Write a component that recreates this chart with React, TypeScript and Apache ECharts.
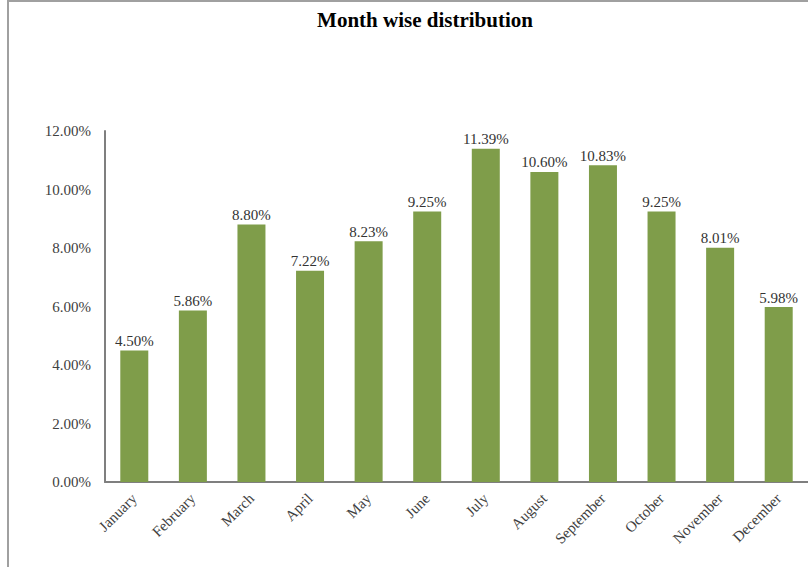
import React, { useEffect, useRef } from "react";
import * as echarts from "echarts";

const months = ["January", "February", "March", "April", "May", "June", "July", "August", "September", "October", "November", "December"];
const shares = [4.5, 5.86, 8.8, 7.22, 8.23, 9.25, 11.39, 10.6, 10.83, 9.25, 8.01, 5.98];
const chartTitle = "Month wise distribution";

const FONT = "'Liberation Serif', 'Times New Roman', serif";

export default function App() {
  const ref = useRef<HTMLDivElement>(null);
  useEffect(() => {
    if (!ref.current) return;
    const chart = echarts.init(ref.current, undefined, { renderer: "svg" });
    chart.setOption({
      animation: false,
      backgroundColor: "#ffffff",
      title: {
        text: chartTitle,
        left: 420,
        top: 4,
        textAlign: "center",
        textStyle: { fontFamily: FONT, fontSize: 21, fontWeight: "bold", color: "#000" },
      },
      graphic: [
        { type: "line", shape: { x1: 8, y1: 0, x2: 8, y2: 567 }, style: { stroke: "#a0a0a0", lineWidth: 2 } },
        { type: "line", shape: { x1: 8, y1: 1, x2: 808, y2: 1 }, style: { stroke: "#a0a0a0", lineWidth: 2 } },
      ],
      grid: { left: 105, top: 131, width: 706, height: 351, containLabel: false },
      xAxis: {
        type: "category",
        data: months,
        axisLine: { show: true, lineStyle: { color: "#7f7f7f", width: 2 } },
        axisTick: { show: false },
        axisLabel: { rotate: 45, interval: 0, fontFamily: FONT, fontSize: 15, color: "#404040", margin: 14 },
      },
      yAxis: {
        type: "value",
        min: 0,
        max: 12,
        interval: 2,
        axisLine: { show: true, lineStyle: { color: "#7f7f7f", width: 2 } },
        axisTick: { show: false },
        splitLine: { show: false },
        axisLabel: {
          fontFamily: FONT,
          fontSize: 15,
          color: "#404040",
          margin: 14,
          formatter: (v: number) => v.toFixed(2) + "%",
        },
      },
      series: [
        {
          type: "bar",
          data: shares,
          barWidth: 28,
          itemStyle: { color: "#7f9d4a" },
          label: {
            show: true,
            position: "top",
            distance: 2,
            fontFamily: FONT,
            fontSize: 15,
            color: "#333",
            formatter: (p: any) => Number(p.value).toFixed(2) + "%",
          },
        },
      ],
    });
    return () => chart.dispose();
  }, []);
  return <div ref={ref} style={{ position: "fixed", left: 0, top: 0, width: 808, height: 567 }} />;
}
